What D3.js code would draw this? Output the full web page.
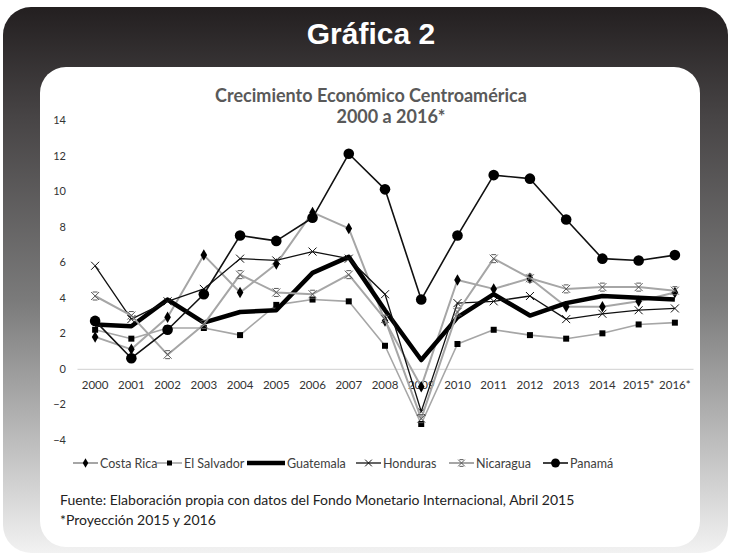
<!DOCTYPE html>
<html>
<head>
<meta charset="utf-8">
<script src="https://cdn.jsdelivr.net/npm/d3@7"></script>
<style>
  body { margin: 0; background: #fff; }
  svg text { font-family: Lato, "Noto Sans", sans-serif; }
</style>
</head>
<body>
<script>
var width = 730, height = 555

// years on the x axis
var years = ["2000","2001","2002","2003","2004","2005","2006","2007","2008",
  "2009","2010","2011","2012","2013","2014","2015*","2016*"]

// growth rates (%)
var costaRica  = [1.8, 1.1, 2.9, 6.4, 4.3, 5.9, 8.8, 7.9, 2.7, -1.0, 5.0, 4.5, 5.1, 3.5, 3.5, 3.8, 4.3]
var elSalvador = [2.2, 1.7, 2.3, 2.3, 1.9, 3.6, 3.9, 3.8, 1.3, -3.1, 1.4, 2.2, 1.9, 1.7, 2.0, 2.5, 2.6]
var guatemala  = [2.5, 2.4, 3.9, 2.6, 3.2, 3.3, 5.4, 6.3, 3.3, 0.5, 2.9, 4.2, 3.0, 3.7, 4.1, 4.0, 3.9]
var honduras   = [5.8, 2.8, 3.8, 4.5, 6.2, 6.1, 6.6, 6.2, 4.2, -2.4, 3.7, 3.8, 4.1, 2.8, 3.1, 3.3, 3.4]
var nicaragua  = [4.1, 3.0, 0.8, 2.5, 5.3, 4.3, 4.2, 5.3, 2.8, -2.8, 3.2, 6.2, 5.1, 4.5, 4.6, 4.6, 4.4]
var panama     = [2.7, 0.6, 2.2, 4.2, 7.5, 7.2, 8.5, 12.1, 10.1, 3.9, 7.5, 10.9, 10.7, 8.4, 6.2, 6.1, 6.4]

var yTicks = [-4, -2, 0, 2, 4, 6, 8, 10, 12, 14]

var series = [
  {name: "Costa Rica",  values: costaRica,  color: "#a6a6a6", lw: 2,   marker: "diamond"},
  {name: "El Salvador", values: elSalvador, color: "#a6a6a6", lw: 1.6, marker: "square"},
  {name: "Guatemala",   values: guatemala,  color: "#000",    lw: 4.5, marker: "none"},
  {name: "Honduras",    values: honduras,   color: "#111",    lw: 1.3, marker: "x"},
  {name: "Nicaragua",   values: nicaragua,  color: "#a6a6a6", lw: 2,   marker: "star"},
  {name: "Panamá",      values: panama,     color: "#111",    lw: 1.6, marker: "circle"}
]

var svg = d3.select("body")
  .append("svg")
  .attr("width", width)
  .attr("height", height)

var defs = svg.append("defs")
var grad = defs.append("linearGradient")
  .attr("id", "frameFill")
  .attr("x1", 0).attr("y1", 0).attr("x2", 0).attr("y2", 1)
grad.selectAll("stop")
  .data([[0, "#231f20"], [0.2, "#474445"], [0.54, "#7b7b7b"], [0.84, "#c8c8c8"], [1, "#f2f2f2"]])
  .enter().append("stop")
  .attr("offset", function(d) { return d[0] })
  .attr("stop-color", function(d) { return d[1] })

// dark frame + white card
svg.append("rect")
  .attr("x", 3).attr("y", 7)
  .attr("width", 725).attr("height", 546)
  .attr("rx", 28)
  .attr("fill", "url(#frameFill)")

svg.append("rect")
  .attr("x", 40).attr("y", 67)
  .attr("width", 660).attr("height", 480)
  .attr("rx", 26)
  .attr("fill", "#fff")

svg.append("text")
  .attr("x", 371).attr("y", 44)
  .attr("text-anchor", "middle")
  .attr("fill", "#fff")
  .style("font-family", "'Liberation Sans', Arial, sans-serif")
  .style("font-weight", "bold")
  .style("font-size", "30px")
  .text("Gráfica 2")

// chart title
var title = svg.append("g")
  .attr("fill", "#595959")
  .style("font-weight", "bold")
  .style("font-size", "18px")
title.append("text").attr("x", 371).attr("y", 102).attr("text-anchor", "middle")
  .text("Crecimiento Económico Centroamérica")
title.append("text").attr("x", 391).attr("y", 123).attr("text-anchor", "middle")
  .text("2000 a 2016*")

// scales
var x = d3.scaleBand()
  .domain(years)
  .range([77, 693])

var y = d3.scaleLinear()
  .domain([-4, 14])
  .range([440, 120])

var yAxis = svg.append("g")
  .attr("transform", "translate(66,0)")
  .call(d3.axisLeft(y).tickValues(yTicks).tickSize(0).tickPadding(0))
yAxis.select(".domain").remove()
yAxis.selectAll("text")
  .attr("fill", "#333")
  .style("font-family", "Lato, sans-serif")
  .style("font-size", "11px")

var xAxis = svg.append("g")
  .attr("transform", "translate(0," + y(0) + ")")
  .call(d3.axisBottom(x).tickSize(0).tickPadding(12))
xAxis.select(".domain").attr("stroke", "#d9d9d9").attr("stroke-width", 1.2)
xAxis.selectAll("text")
  .attr("fill", "#333")
  .style("font-family", "Lato, sans-serif")
  .style("font-size", "11.5px")

var cx = function(d, i) { return x(years[i]) + x.bandwidth() / 2 }

var line = d3.line()
  .x(function(d, i) { return cx(d, i) })
  .y(function(d) { return y(d) })

function drawMarker(g, type, px, py, s) {
  if (type === "diamond") {
    g.append("path").attr("d", d3.symbol().type(d3.symbolDiamond).size(38 * s)())
      .attr("transform", "translate(" + px + "," + py + ")").attr("fill", "#000")
  } else if (type === "square") {
    g.append("path").attr("d", d3.symbol().type(d3.symbolSquare).size(36 * s)())
      .attr("transform", "translate(" + px + "," + py + ")").attr("fill", "#000")
  } else if (type === "circle") {
    g.append("circle").attr("cx", px).attr("cy", py).attr("r", 5.3 * Math.sqrt(s)).attr("fill", "#000")
  } else if (type === "x") {
    var r = 4 * Math.sqrt(s)
    g.append("path")
      .attr("d", "M" + (px - r) + "," + (py - r) + "L" + (px + r) + "," + (py + r) +
        "M" + (px - r) + "," + (py + r) + "L" + (px + r) + "," + (py - r))
      .attr("stroke", "#111").attr("stroke-width", 1).attr("fill", "none")
  } else if (type === "star") {
    var r2 = 4 * Math.sqrt(s)
    g.append("path")
      .attr("d", "M" + (px - r2) + "," + (py - r2) + "L" + (px + r2) + "," + (py + r2) +
        "M" + (px - r2) + "," + (py + r2) + "L" + (px + r2) + "," + (py - r2) +
        "M" + (px - r2 * 0.6) + "," + (py - r2) + "L" + (px + r2 * 0.6) + "," + (py - r2) +
        "M" + (px - r2 * 0.6) + "," + (py + r2) + "L" + (px + r2 * 0.6) + "," + (py + r2))
      .attr("stroke", "#595959").attr("stroke-width", 1).attr("fill", "none")
  }
}

var plot = svg.append("g")
series.forEach(function(s) {
  var g = plot.append("g")
  g.append("path")
    .datum(s.values)
    .attr("d", line)
    .attr("fill", "none")
    .attr("stroke", s.color)
    .attr("stroke-width", s.lw)
    .attr("stroke-linejoin", "round")
  s.values.forEach(function(v, i) {
    drawMarker(g, s.marker, cx(v, i), y(v), 1)
  })
})

// legend
var legendX = [73, 157, 247, 356, 449, 543]
var legend = svg.append("g")
series.forEach(function(s, i) {
  var g = legend.append("g")
  var lx = legendX[i], ly = 463
  var len = s.marker === "none" ? 38 : 25
  g.append("line")
    .attr("x1", lx).attr("x2", lx + len)
    .attr("y1", ly).attr("y2", ly)
    .attr("stroke", s.color)
    .attr("stroke-width", s.lw)
  drawMarker(g, s.marker, lx + len / 2, ly, 0.7)
  g.append("text")
    .attr("x", lx + len + 2).attr("y", ly + 4.5)
    .attr("fill", "#404040")
    .style("font-size", "12.5px")
    .text(s.name)
})

// source note
var note = svg.append("g")
  .attr("fill", "#222")
  .style("font-size", "14px")
note.append("text").attr("x", 60).attr("y", 505)
  .text("Fuente: Elaboración propia con datos del Fondo Monetario Internacional, Abril 2015")
note.append("text").attr("x", 60).attr("y", 525)
  .text("*Proyección 2015 y 2016")
</script>
</body>
</html>
